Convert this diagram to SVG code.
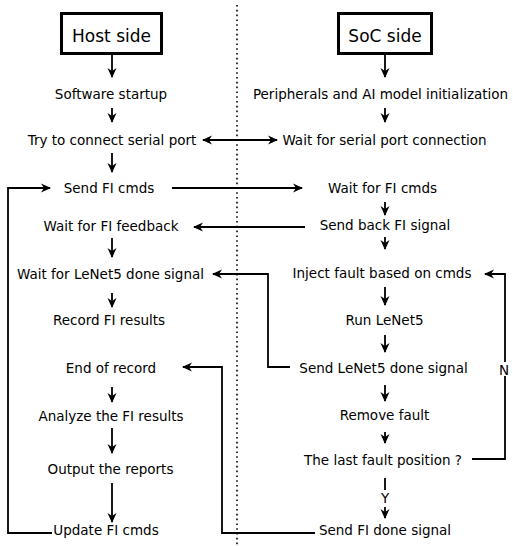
<svg xmlns="http://www.w3.org/2000/svg" width="513" height="546" viewBox="0 0 513 546">
<style>
text{font-family:"DejaVu Sans",Verdana,sans-serif;font-size:13.5px;fill:#000;text-anchor:middle}
.title{font-size:17px}
.box{fill:#fff;stroke:#000;stroke-width:3}
.c{fill:none;stroke:#000;stroke-width:1.8}
.a{marker-end:url(#ah)}
.d{marker-start:url(#ah);marker-end:url(#ah)}
.sep{stroke:#000;stroke-width:1.6;stroke-dasharray:1.6 3.2}
</style>
<defs>
<marker id="ah" viewBox="0 0 10 10" refX="9" refY="5" markerWidth="10" markerHeight="10" orient="auto-start-reverse" markerUnits="userSpaceOnUse">
<path d="M0,0.5 L10,5 L0,9.5 L3,5 z" fill="#000"/>
</marker>
</defs>
<rect width="513" height="546" fill="#fff"/>
<line class="sep" x1="237" y1="5" x2="237" y2="546"/>
<g id="connectors">
<line class="c a" x1="112" y1="55" x2="112" y2="77"/>
<line class="c a" x1="112" y1="108" x2="112" y2="122"/>
<line class="c a" x1="112" y1="153" x2="112" y2="172"/>
<line class="c a" x1="112" y1="238" x2="112" y2="257"/>
<line class="c a" x1="112" y1="293" x2="112" y2="307"/>
<line class="c a" x1="112" y1="387" x2="112" y2="402"/>
<line class="c a" x1="112" y1="428" x2="112" y2="453"/>
<line class="c a" x1="112" y1="483" x2="112" y2="522"/>
<line class="c a" x1="385" y1="55" x2="385" y2="77"/>
<line class="c a" x1="385" y1="108" x2="385" y2="122"/>
<line class="c a" x1="385" y1="202" x2="385" y2="215"/>
<line class="c a" x1="385" y1="237" x2="385" y2="249"/>
<line class="c a" x1="385" y1="287" x2="385" y2="305"/>
<line class="c a" x1="385" y1="335" x2="385" y2="352"/>
<line class="c a" x1="385" y1="385" x2="385" y2="401"/>
<line class="c a" x1="385" y1="432" x2="385" y2="443"/>
<line class="c" x1="385" y1="478" x2="385" y2="490"/>
<line class="c a" x1="385" y1="507" x2="385" y2="518"/>
<line class="c d" x1="203" y1="140" x2="277" y2="140"/>
<line class="c a" x1="172" y1="188" x2="302" y2="188"/>
<line class="c a" x1="305" y1="227" x2="194" y2="227"/>
<polyline class="c a" points="290,367 268,367 268,274 213,274"/>
<polyline class="c a" points="315,533 222,533 222,367 183,367"/>
<polyline class="c a" points="52,533 8,533 8,188 50,188"/>
<polyline class="c" points="472,459 505,459 505,376"/>
<polyline class="c a" points="505,362 505,274 485,274"/>
<text x="504" y="375">N</text>
<text x="385" y="503">Y</text>
</g>
<g id="host-side"><rect class="box" x="61.5" y="13.5" width="100" height="40"/><text class="title" x="111.5" y="42">Host side</text></g>
<g id="soc-side"><rect class="box" x="338.5" y="13.5" width="93" height="40"/><text class="title" x="385" y="42">SoC side</text></g>
<g id="h1"><text x="111" y="99">Software startup</text></g>
<g id="h2"><text x="112" y="145">Try to connect serial port</text></g>
<g id="h3"><text x="109" y="193">Send FI cmds</text></g>
<g id="h4"><text x="111" y="231">Wait for FI feedback</text></g>
<g id="h5"><text x="110.5" y="279">Wait for LeNet5 done signal</text></g>
<g id="h6"><text x="109" y="325">Record FI results</text></g>
<g id="h7"><text x="111" y="373">End of record</text></g>
<g id="h8"><text x="111" y="421">Analyze the FI results</text></g>
<g id="h9"><text x="110.5" y="474">Output the reports</text></g>
<g id="h10"><text x="106" y="535">Update FI cmds</text></g>
<g id="s1"><text x="380.5" y="99">Peripherals and AI model initialization</text></g>
<g id="s2"><text x="384.5" y="145">Wait for serial port connection</text></g>
<g id="s3"><text x="382.5" y="193">Wait for FI cmds</text></g>
<g id="s4"><text x="385" y="230">Send back FI signal</text></g>
<g id="s5"><text x="382" y="278">Inject fault based on cmds</text></g>
<g id="s6"><text x="384.5" y="325">Run LeNet5</text></g>
<g id="s7"><text x="383.5" y="373">Send LeNet5 done signal</text></g>
<g id="s8"><text x="384.5" y="420">Remove fault</text></g>
<g id="s9"><text x="383" y="465">The last fault position ?</text></g>
<g id="s10"><text x="385" y="535">Send FI done signal</text></g>
</svg>
